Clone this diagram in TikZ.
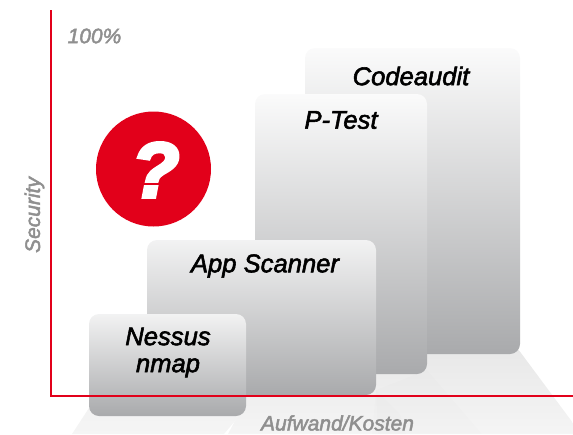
\documentclass[tikz,border=0pt]{standalone}
\usepackage{fontspec}
\setmainfont{Liberation Sans}
\newfontfamily\heavyfont[ItalicFeatures={FakeBold=2.2}]{Liberation Sans}
\newfontfamily\blackfont[BoldItalicFeatures={FakeBold=4.5}]{Liberation Sans}
\definecolor{axisred}{HTML}{E2001A}
\definecolor{boxlow}{HTML}{A9AAAC}
\definecolor{lbl}{HTML}{8F8F8F}
\tikzset{
  block/.style={rounded corners=10pt,top color=#1,bottom color=boxlow,draw=none},
  floorbase/.style={top color=#1,bottom color=white!96!black,draw=none},
  flooroverlap/.style={fill=black,fill opacity=0.008,draw=none},
  boxlabel/.style={font=\fontsize{25.6}{26}\selectfont\heavyfont\itshape,text=black,inner sep=0pt,align=center},
  axislabel/.style={font=\fontsize{21}{21}\selectfont\heavyfont\itshape,text=lbl,inner sep=0pt},
  axisline/.style={draw=axisred,line width=1.5pt}
}
\begin{document}
\begin{tikzpicture}[x=1pt,y=-1pt]
\useasboundingbox (0,0) rectangle (573,434);
% floor shadows
\shade[floorbase=white!91!black] (228,434) -- (246,400) -- (246,349) -- (518,349) -- (573,423) -- (573,434) -- cycle;
\fill[flooroverlap] (427,370) -- (482,434) -- (378,434) -- (376,390) -- cycle;
\fill[flooroverlap] (376,390) -- (400,414) -- (406,434) -- (372,434) -- cycle;
\shade[floorbase=white!95!black] (89,408) -- (246,408) -- (224,434) -- (72,434) -- cycle;
% blocks
\shade[block=white!95!boxlow] (305,48) rectangle (520,354);
\coordinate (codeC) at (411,76);
\shade[block=white!95!boxlow] (255,94) rectangle (427,374);
\shade[block=white!85!boxlow] (147,240) rectangle (376,395);
% axes
\coordinate (top) at (51,10);
\coordinate (origin) at (51,396);
\coordinate (right) at (573,396);
\shade[block=white!85!boxlow] (89,314) rectangle (246,416);
\draw[axisline,line join=miter] (top) -- (origin) -- (right);
% labels
\node[boxlabel] (code) at (codeC) {Codeaudit};
\node[boxlabel] (ptest) at (341,120) {P-Test};
\node[boxlabel] (app) at (265,266) {App Scanner};
\node[boxlabel] (nessus) at (168,352.5) {Nessus\\[1pt]nmap};
\node[axislabel] (pct) at (94.5,36) {100\%};
\node[axislabel,rotate=90] (sec) at (34.5,215) {Security};
\node[axislabel] (cost) at (337.5,423) {Aufwand/Kosten};
% question mark
\node[circle,fill=axisred,minimum size=115pt,inner sep=0pt] (q) at (153.5,169) {};
\node[font=\fontsize{78}{78}\selectfont\blackfont\bfseries\itshape,text=white,inner sep=0pt] (qm) at (155.5,170) {?};
\end{tikzpicture}
\end{document}
